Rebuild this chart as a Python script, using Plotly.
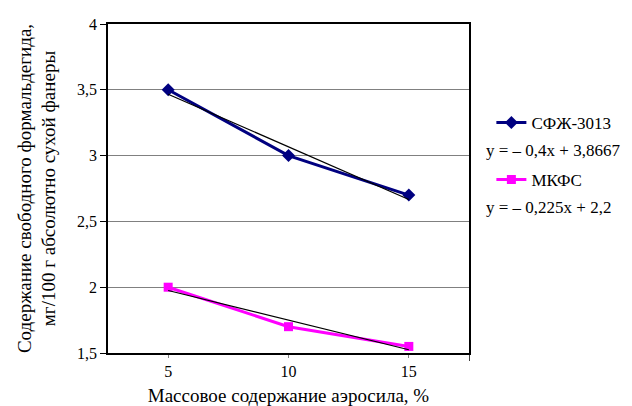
import plotly.graph_objects as go

categories = [5, 10, 15]
sfzh = [3.5, 3.0, 2.7]
mkfs = [2.0, 1.7, 1.55]
sfzh_trend = [3.4667, 3.0667, 2.6667]
mkfs_trend = [1.975, 1.75, 1.525]
y_ticks = [1.5, 2, 2.5, 3, 3.5, 4]
y_labels = ["1,5", "2", "2,5", "3", "3,5", "4"]

FONT = "Liberation Serif, Times New Roman, serif"

fig = go.Figure()
fig.add_trace(go.Scatter(x=categories, y=sfzh, mode="lines+markers", name="СФЖ-3013",
                         line=dict(color="#000080", width=3),
                         marker=dict(symbol="diamond", size=10, color="#000080"),
                         legend="legend"))
fig.add_trace(go.Scatter(x=categories, y=sfzh_trend, mode="lines", showlegend=False,
                         line=dict(color="black", width=1.2)))
fig.add_trace(go.Scatter(x=categories, y=mkfs, mode="lines+markers", name="МКФС",
                         line=dict(color="#FF00FF", width=3),
                         marker=dict(symbol="square", size=9, color="#FF00FF"),
                         legend="legend2"))
fig.add_trace(go.Scatter(x=categories, y=mkfs_trend, mode="lines", showlegend=False,
                         line=dict(color="black", width=1.2)))

fig.update_layout(
    width=632, height=406,
    margin=dict(l=100, r=171, t=16, b=61, autoexpand=False),
    paper_bgcolor="white", plot_bgcolor="white",
    font=dict(family=FONT, size=16, color="black"),
    legend=dict(x=1.062, y=0.699, xanchor="left", yanchor="middle",
                font=dict(family=FONT, size=17), bgcolor="rgba(0,0,0,0)", itemwidth=30),
    legend2=dict(x=1.062, y=0.526, xanchor="left", yanchor="middle",
                 font=dict(family=FONT, size=17), bgcolor="rgba(0,0,0,0)", itemwidth=30),
    annotations=[
        dict(text="y = – 0,4x + 3,8667", xref="paper", yref="paper", x=1.042, y=0.614,
             xanchor="left", yanchor="middle", showarrow=False,
             font=dict(family=FONT, size=17)),
        dict(text="y = – 0,225x + 2,2", xref="paper", yref="paper", x=1.042, y=0.441,
             xanchor="left", yanchor="middle", showarrow=False,
             font=dict(family=FONT, size=17)),
    ],
)
fig.update_xaxes(range=[2.5, 17.5], tickvals=categories, ticktext=[str(c) for c in categories],
                 ticks="outside", ticklen=3, tickcolor="#808080",
                 showgrid=False, zeroline=False, automargin=False,
                 showline=True, linecolor="black", linewidth=1.5, mirror=True,
                 minor=dict(tickvals=[17.5], ticks="outside", ticklen=6,
                            tickcolor="#404040", showgrid=False),
                 tickfont=dict(family=FONT, size=16),
                 title=dict(text="Массовое содержание аэросила, %",
                            font=dict(family=FONT, size=19), standoff=10))
fig.update_yaxes(range=[1.5, 4], tickvals=y_ticks, ticktext=y_labels,
                 ticks="outside", ticklen=6, tickcolor="black",
                 showgrid=True, gridcolor="#808080", gridwidth=1, zeroline=False,
                 automargin=False,
                 showline=True, linecolor="black", linewidth=1.5, mirror=True,
                 tickfont=dict(family=FONT, size=16),
                 title=dict(text="Содержание свободного формальдегида,<br>мг/100 г абсолютно сухой фанеры",
                            font=dict(family=FONT, size=19), standoff=16))

fig.write_html("out.html")
